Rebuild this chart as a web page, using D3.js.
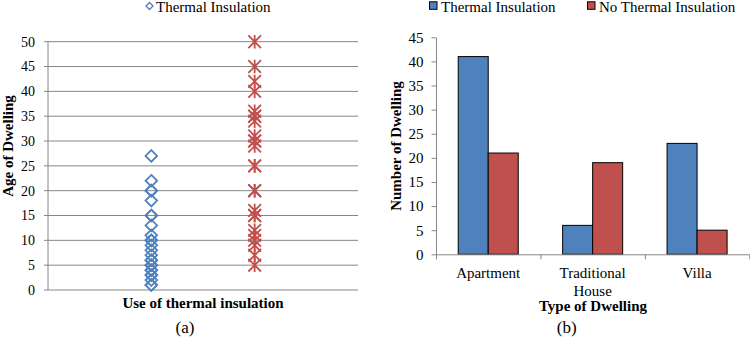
<!DOCTYPE html>
<html>
<head>
<meta charset="utf-8">
<script src="https://cdn.jsdelivr.net/npm/d3@7"></script>
<style>
  html, body { margin: 0; padding: 0; background: #fff; }
  svg { display: block; }
</style>
</head>
<body>
<svg id="chart" width="750" height="339"></svg>
<script>
// ---------- data ----------
const ageTicks = [0, 5, 10, 15, 20, 25, 30, 35, 40, 45, 50];
const ageThermal = [27, 22, 20, 20, 18, 15, 15, 13, 11, 10, 10, 9, 8, 7, 6, 6, 5, 5, 4, 4, 3, 3, 2, 1, 1];
const ageNoThermal = [50, 45, 42, 40, 36, 35, 35, 34, 31, 30, 30, 29, 25, 25, 20, 20, 16, 15, 15, 12, 11, 10, 9, 7, 5];

const dwellingTypes = ["Apartment", "Traditional House", "Villa"];
const dwellingLabelLines = [["Apartment"], ["Traditional", "House"], ["Villa"]];
const countThermal = [41, 6, 23];
const countNoThermal = [21, 19, 5];
const countTicks = [0, 5, 10, 15, 20, 25, 30, 35, 40, 45];
const seriesNames = ["Thermal Insulation", "No Thermal Insulation"];

const BLUE = "#4F81BD", RED = "#C0504D", GRID = "#868686";
const FONT = "'Liberation Serif', 'Times New Roman', serif";

const svg = d3.select("#chart");
svg.append("rect").attr("width", 750).attr("height", 339).attr("fill", "#fff");

// ---------- chart (a): scatter ----------
const a = svg.append("g");
const xA = d3.scaleLinear().domain([0, 3]).range([48, 358]);
const yA = d3.scaleLinear().domain([0, 50]).range([290, 41.7]);

a.selectAll("line.grid").data(ageTicks).join("line")
  .attr("x1", xA(0) - 4).attr("x2", xA(3))
  .attr("y1", d => yA(d)).attr("y2", d => yA(d))
  .attr("stroke", GRID).attr("stroke-width", 1);
a.append("line")
  .attr("x1", xA(0)).attr("x2", xA(0))
  .attr("y1", yA(0)).attr("y2", yA(50))
  .attr("stroke", GRID).attr("stroke-width", 1);
a.selectAll("text.tick").data(ageTicks).join("text")
  .attr("x", xA(0) - 13).attr("y", d => yA(d)).attr("dy", "0.35em")
  .attr("text-anchor", "end").attr("font-size", 14).text(d => d);

const diamond = { draw(ctx, size) { const r = Math.sqrt(size); ctx.moveTo(0, -r); ctx.lineTo(r, 0); ctx.lineTo(0, r); ctx.lineTo(-r, 0); ctx.closePath(); } };
const star = { draw(ctx, size) { const r = Math.sqrt(size); const q = r * 0.93;
  ctx.moveTo(-q, -q); ctx.lineTo(q, q); ctx.moveTo(-q, q); ctx.lineTo(q, -q);
  ctx.moveTo(0, -r); ctx.lineTo(0, r); } };

a.selectAll("path.blue").data(ageThermal).join("path")
  .attr("transform", d => `translate(${xA(1)},${yA(d)})`)
  .attr("d", d3.symbol(diamond, 5.8 * 5.8))
  .attr("fill", "none").attr("stroke", BLUE).attr("stroke-width", 1.8);
a.selectAll("path.red").data(ageNoThermal).join("path")
  .attr("transform", d => `translate(${xA(2)},${yA(d)})`)
  .attr("d", d3.symbol(star, 6.8 * 6.8))
  .attr("fill", "none").attr("stroke", RED).attr("stroke-width", 1.8);

// legend (a)
a.append("path").attr("transform", "translate(149.5,6)")
  .attr("d", d3.symbol(diamond, 3.5 * 3.5))
  .attr("fill", "none").attr("stroke", BLUE).attr("stroke-width", 1.3);
a.append("text").attr("x", 156).attr("y", 11.5).attr("font-size", 15).text(seriesNames[0]);

a.append("text").attr("x", (xA(0) + xA(3)) / 2).attr("y", 307.5)
  .attr("text-anchor", "middle").attr("font-size", 15).attr("font-weight", "bold")
  .text("Use of thermal insulation");
a.append("text").attr("transform", "translate(13,146) rotate(-90)")
  .attr("text-anchor", "middle").attr("font-size", 15).attr("font-weight", "bold")
  .text("Age of Dwelling");
a.append("text").attr("x", 185).attr("y", 333).attr("text-anchor", "middle")
  .attr("font-size", 17).text("(a)");

// ---------- chart (b): grouped bars ----------
const b = svg.append("g");
const xB = d3.scaleBand().domain(dwellingTypes).range([436, 749.3]).padding(0);
const xSub = d3.scaleBand().domain(seriesNames).range([0, xB.bandwidth()]).paddingInner(0).paddingOuter(0.74);
const yB = d3.scaleLinear().domain([0, 45]).range([254.3, 37.3]);
const xBound = d3.scaleLinear().domain([0, dwellingTypes.length]).range(xB.range());

const rows = dwellingTypes.map((t, i) => ({ type: t, vals: [countThermal[i], countNoThermal[i]] }));
const grp = b.selectAll("g.grp").data(rows).join("g")
  .attr("transform", d => `translate(${xB(d.type)},0)`);
grp.selectAll("rect").data(d => d.vals.map((v, j) => ({ s: seriesNames[j], v, j }))).join("rect")
  .attr("x", d => xSub(d.s)).attr("width", xSub.bandwidth())
  .attr("y", d => yB(d.v)).attr("height", d => yB(0) - yB(d.v))
  .attr("fill", d => d.j === 0 ? BLUE : RED)
  .attr("stroke", "#000").attr("stroke-width", 1);

const yAxisB = b.append("g").attr("transform", `translate(${xB.range()[0]},0)`)
  .call(d3.axisLeft(yB).tickValues(countTicks).tickSizeInner(4.5).tickSizeOuter(0).tickPadding(8));
yAxisB.select(".domain").attr("stroke", GRID);
yAxisB.selectAll(".tick line").attr("stroke", GRID);
yAxisB.selectAll(".tick text").attr("font-size", 15).attr("fill", "#000");

const xAxisB = b.append("g").attr("transform", `translate(0,${yB(0)})`)
  .call(d3.axisBottom(xBound).tickValues(d3.range(dwellingTypes.length + 1)).tickSizeInner(5).tickSizeOuter(0).tickFormat(""));
xAxisB.select(".domain").attr("stroke", GRID);
xAxisB.selectAll(".tick line").attr("stroke", GRID);

b.selectAll("text.cat").data(dwellingTypes).join("text")
  .attr("x", d => xB(d) + xB.bandwidth() / 2).attr("y", 278)
  .attr("text-anchor", "middle").attr("font-size", 15)
  .each(function (d, i) {
    d3.select(this).selectAll("tspan").data(dwellingLabelLines[i]).join("tspan")
      .attr("x", xB(d) + xB.bandwidth() / 2).attr("dy", (l, k) => k === 0 ? 0 : 17.7).text(l => l);
  });

b.append("text").attr("x", 593).attr("y", 311)
  .attr("text-anchor", "middle").attr("font-size", 15).attr("font-weight", "bold")
  .text("Type of Dwelling");
b.append("text").attr("transform", "translate(401,146) rotate(-90)")
  .attr("text-anchor", "middle").attr("font-size", 15).attr("font-weight", "bold")
  .text("Number of Dwelling");
b.append("text").attr("x", 566.7).attr("y", 333).attr("text-anchor", "middle")
  .attr("font-size", 17).text("(b)");

// legend (b)
const legX = [429.5, 587.5];
const legB = b.selectAll("g.leg").data(seriesNames).join("g")
  .attr("transform", (d, i) => `translate(${legX[i]},0)`);
legB.append("rect").attr("x", 0).attr("y", 1.8).attr("width", 7.5).attr("height", 7.5)
  .attr("fill", (d, i) => i === 0 ? BLUE : RED).attr("stroke", "#000").attr("stroke-width", 1);
legB.append("text").attr("x", 11.5).attr("y", 11.5).attr("font-size", 15).text(d => d);

svg.selectAll("text").attr("font-family", FONT).style("font-family", FONT).style("fill", "#000");
</script>
</body>
</html>
